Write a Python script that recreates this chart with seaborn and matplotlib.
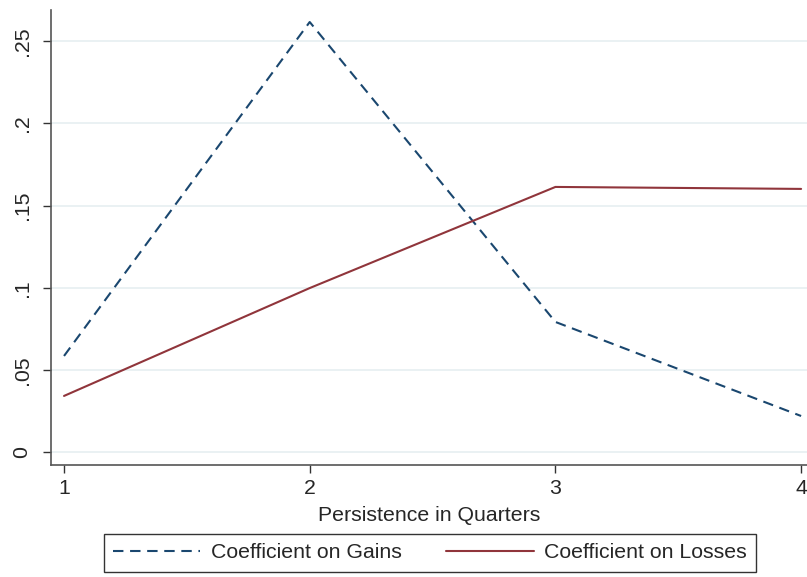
import pandas as pd
import numpy as np
import matplotlib
matplotlib.use("Agg")
import matplotlib.pyplot as plt
import seaborn as sns
from matplotlib.lines import Line2D

# Data
quarters = [1, 2, 3, 4]
gains = [0.0586, 0.2617, 0.0793, 0.0221]
losses = [0.0343, 0.0999, 0.1614, 0.1602]
y_ticks = [0, 0.05, 0.10, 0.15, 0.20, 0.25]
y_tick_labels = ["0", ".05", ".1", ".15", ".2", ".25"]
series_names = ["Coefficient on Gains", "Coefficient on Losses"]

df = pd.DataFrame({
    "quarter": quarters * 2,
    "coef": gains + losses,
    "series": [series_names[0]] * 4 + [series_names[1]] * 4,
})

sns.set_theme(style="white")
plt.rcParams["font.family"] = ["Liberation Sans", "DejaVu Sans"]

colors = {series_names[0]: "#1a476f", series_names[1]: "#90353b"}
dashes = {series_names[0]: (5, 3.2), series_names[1]: ""}
fs = 15.3

fig = plt.figure(figsize=(8.07, 5.77), dpi=100)
ax = fig.add_axes([51 / 807, 1 - 465 / 577, 756 / 807, 455 / 577])

for y in y_ticks:
    ax.axhline(y, color="#e8f0f2", lw=1.3, zorder=0)

sns.lineplot(data=df, x="quarter", y="coef", hue="series", style="series",
             palette=colors, dashes=dashes, lw=1.5, ax=ax, legend=False)

ax.set_xlim(0.947, 4.024)
ax.set_ylim(-0.0077, 0.269)
ax.set_xticks(quarters)
ax.set_xticklabels([str(q) for q in quarters], fontsize=fs)
ax.set_yticks(y_ticks)
ax.set_yticklabels(y_tick_labels, fontsize=fs, rotation=90, va="center")
ax.tick_params(axis="both", direction="out", length=6, width=1, color="#333333",
               bottom=True, left=True, pad=4)
ax.tick_params(axis="y", pad=8)
ax.set_xlabel("Persistence in Quarters", fontsize=fs, labelpad=6)
ax.set_ylabel("")

for side in ["top", "right"]:
    ax.spines[side].set_visible(False)
for side in ["left", "bottom"]:
    ax.spines[side].set_color("#555555")
    ax.spines[side].set_linewidth(1.2)

handles = [
    Line2D([0], [0], color=colors[series_names[0]], lw=1.5, dashes=dashes[series_names[0]]),
    Line2D([0], [0], color=colors[series_names[1]], lw=1.5),
]
leg = fig.legend(handles, series_names, loc="center", ncol=2,
                 bbox_to_anchor=(430 / 807, 1 - 553 / 577), fontsize=fs,
                 frameon=True, fancybox=False, edgecolor="#000000",
                 handlelength=4.1, handletextpad=0.5, columnspacing=2.1,
                 borderpad=0.45)
leg.get_frame().set_linewidth(1.0)

fig.savefig("out.png", dpi=100)
